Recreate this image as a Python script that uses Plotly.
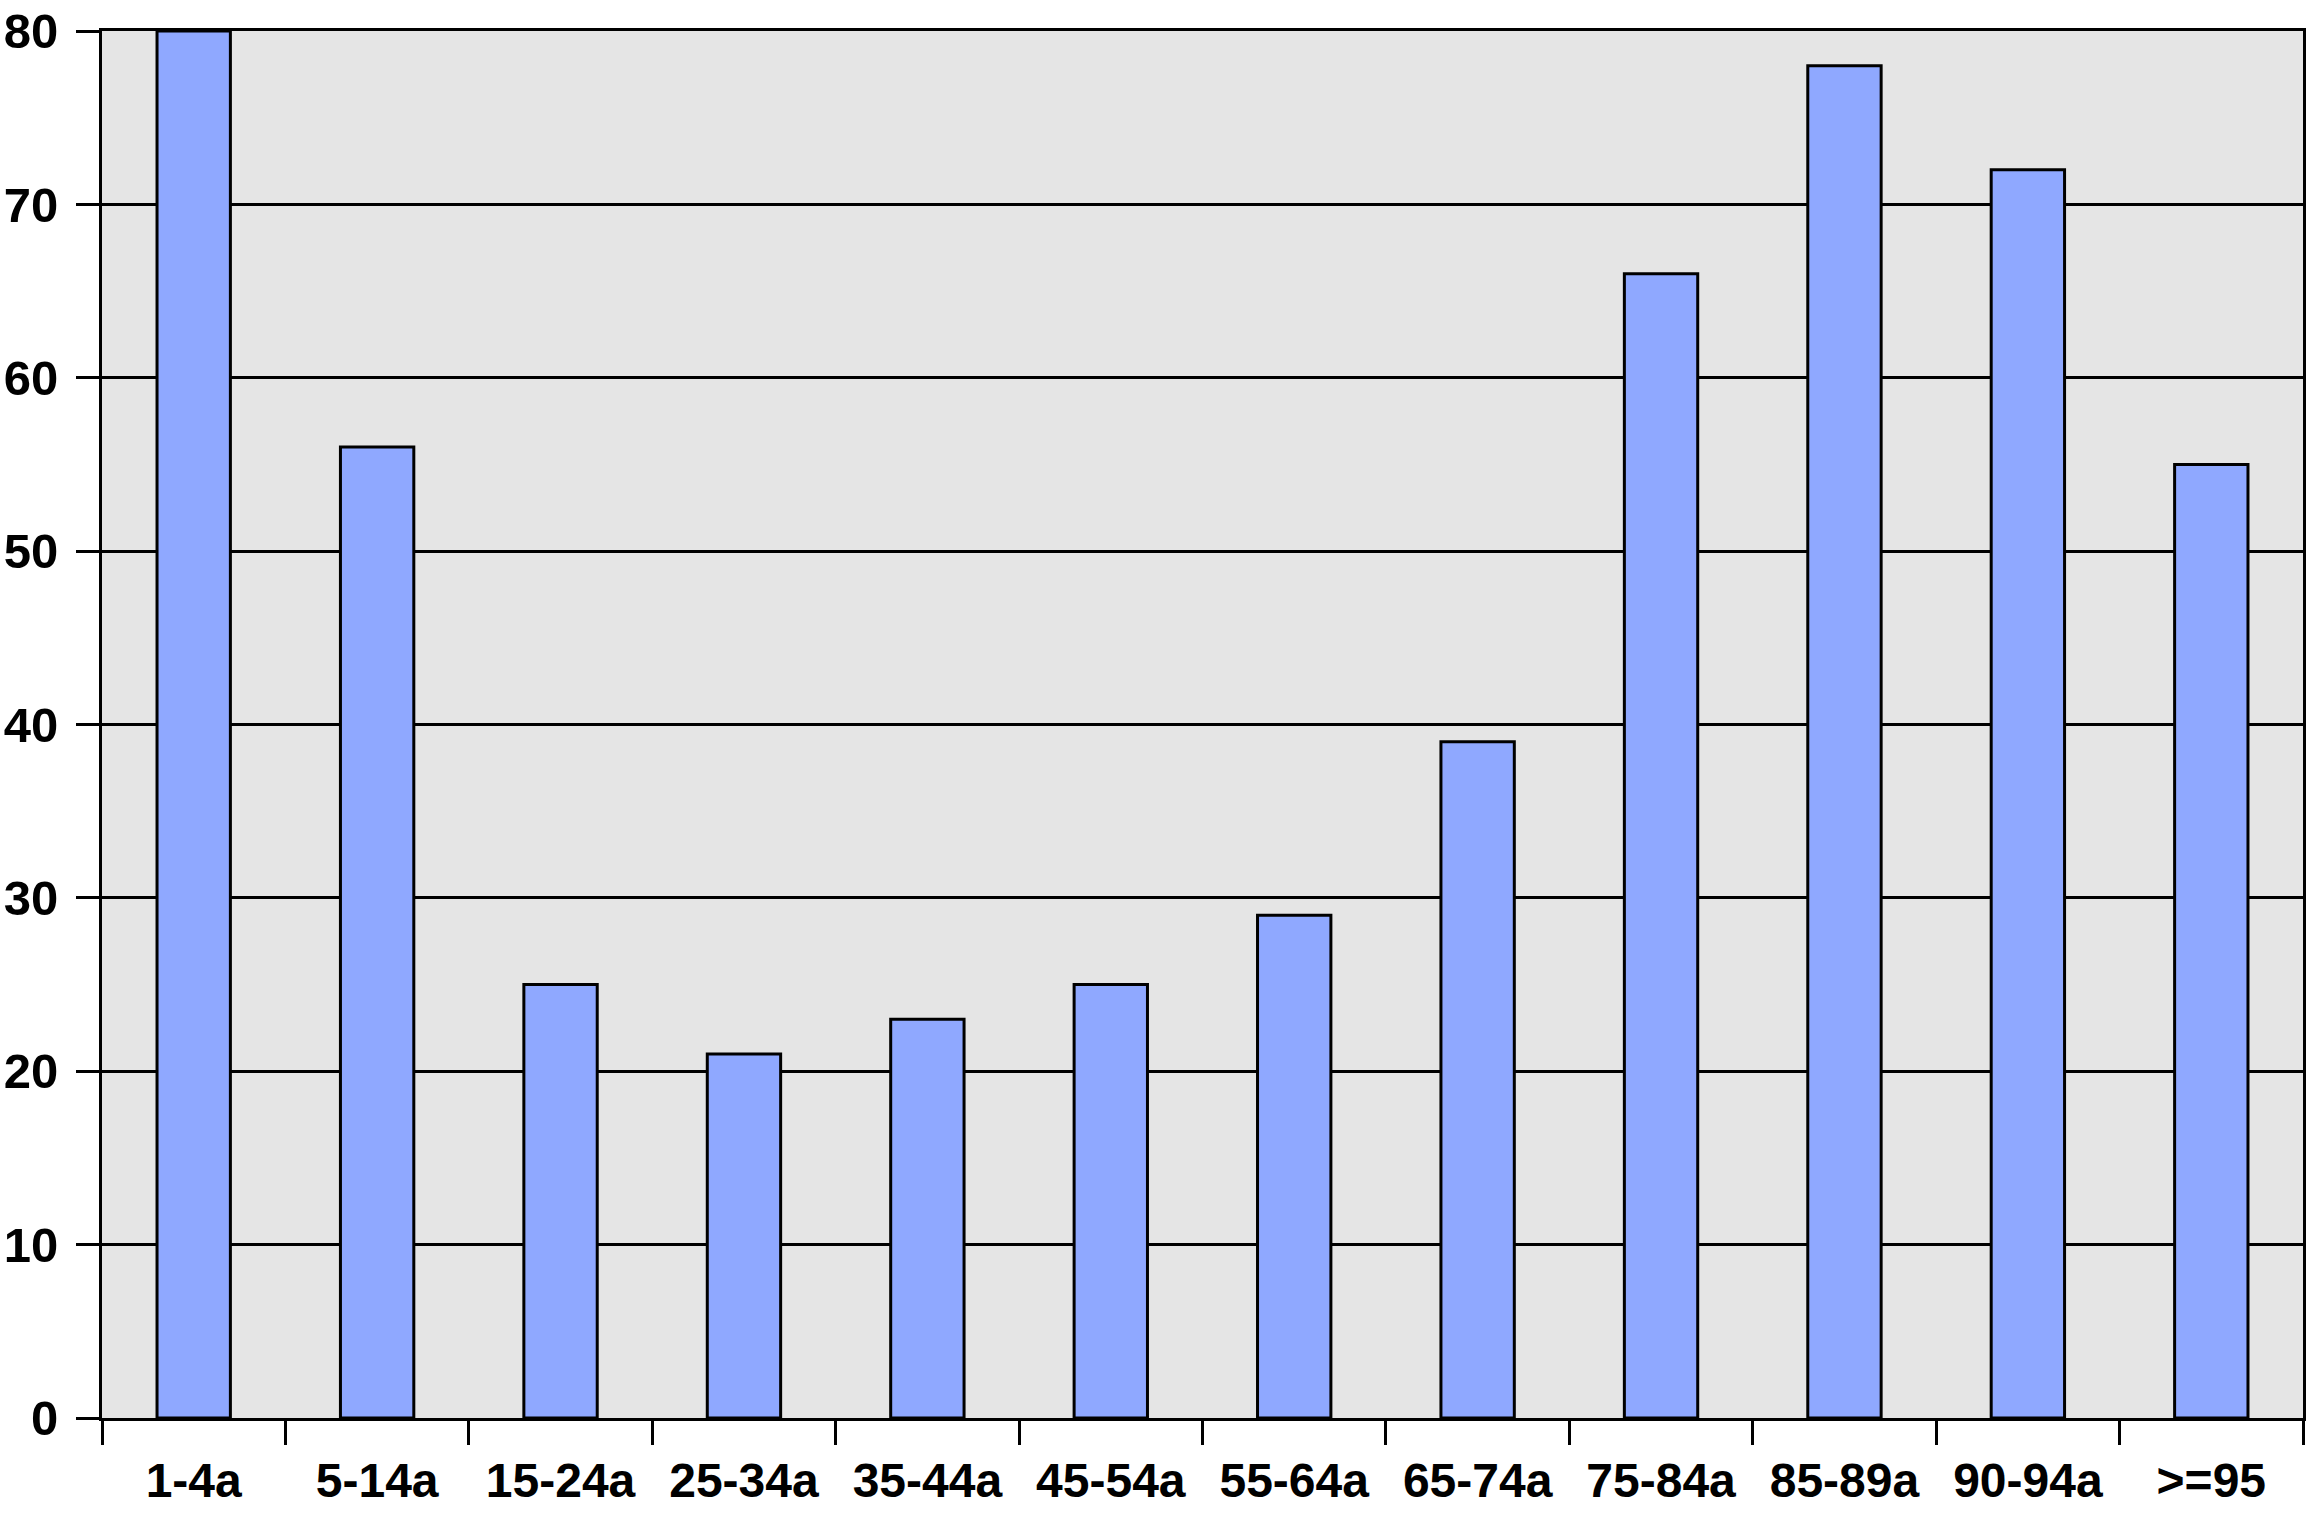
import plotly.graph_objects as go

categories = ['1-4a', '5-14a', '15-24a', '25-34a', '35-44a', '45-54a',
              '55-64a', '65-74a', '75-84a', '85-89a', '90-94a', '>=95']
values = [80, 56, 25, 21, 23, 25, 29, 39, 66, 78, 72, 55]
y_ticks = [0, 10, 20, 30, 40, 50, 60, 70, 80]

fig = go.Figure()
fig.add_trace(go.Bar(
    x=categories, y=values,
    marker=dict(color='#8fa8ff', line=dict(color='black', width=3)),
))

fam = 'Liberation Sans, Arial, sans-serif'

fig.update_layout(
    width=2312, height=1521,
    margin=dict(l=102, r=9, t=31, b=103),
    paper_bgcolor='white', plot_bgcolor='#e5e5e5',
    bargap=0.6, showlegend=False,
    font=dict(family=fam, color='black'),
)
fig.update_xaxes(
    showline=True, linecolor='black', linewidth=3, mirror=True,
    ticks='outside', ticklen=24, tickwidth=3, tickcolor='black',
    tickson='boundaries', showgrid=False, ticklabelstandoff=18,
    automargin=False, ticklabeloverflow='allow',
    tickfont=dict(family=fam, size=48, color='black', weight='bold'),
)
fig.update_yaxes(
    range=[0, 80], tickvals=y_ticks,
    showline=True, linecolor='black', linewidth=3, mirror=True,
    showgrid=True, gridcolor='black', gridwidth=3, zeroline=False,
    ticks='outside', ticklen=23, tickwidth=3, tickcolor='black',
    ticklabelstandoff=8, automargin=False, ticklabeloverflow='allow',
    tickfont=dict(family=fam, size=49, color='black', weight='bold'),
)

# drop the default 8px body margin so the figure sits at the page corner
fig.write_html("out.html", config={'displayModeBar': False},
               post_script="document.body.style.margin='0';")
